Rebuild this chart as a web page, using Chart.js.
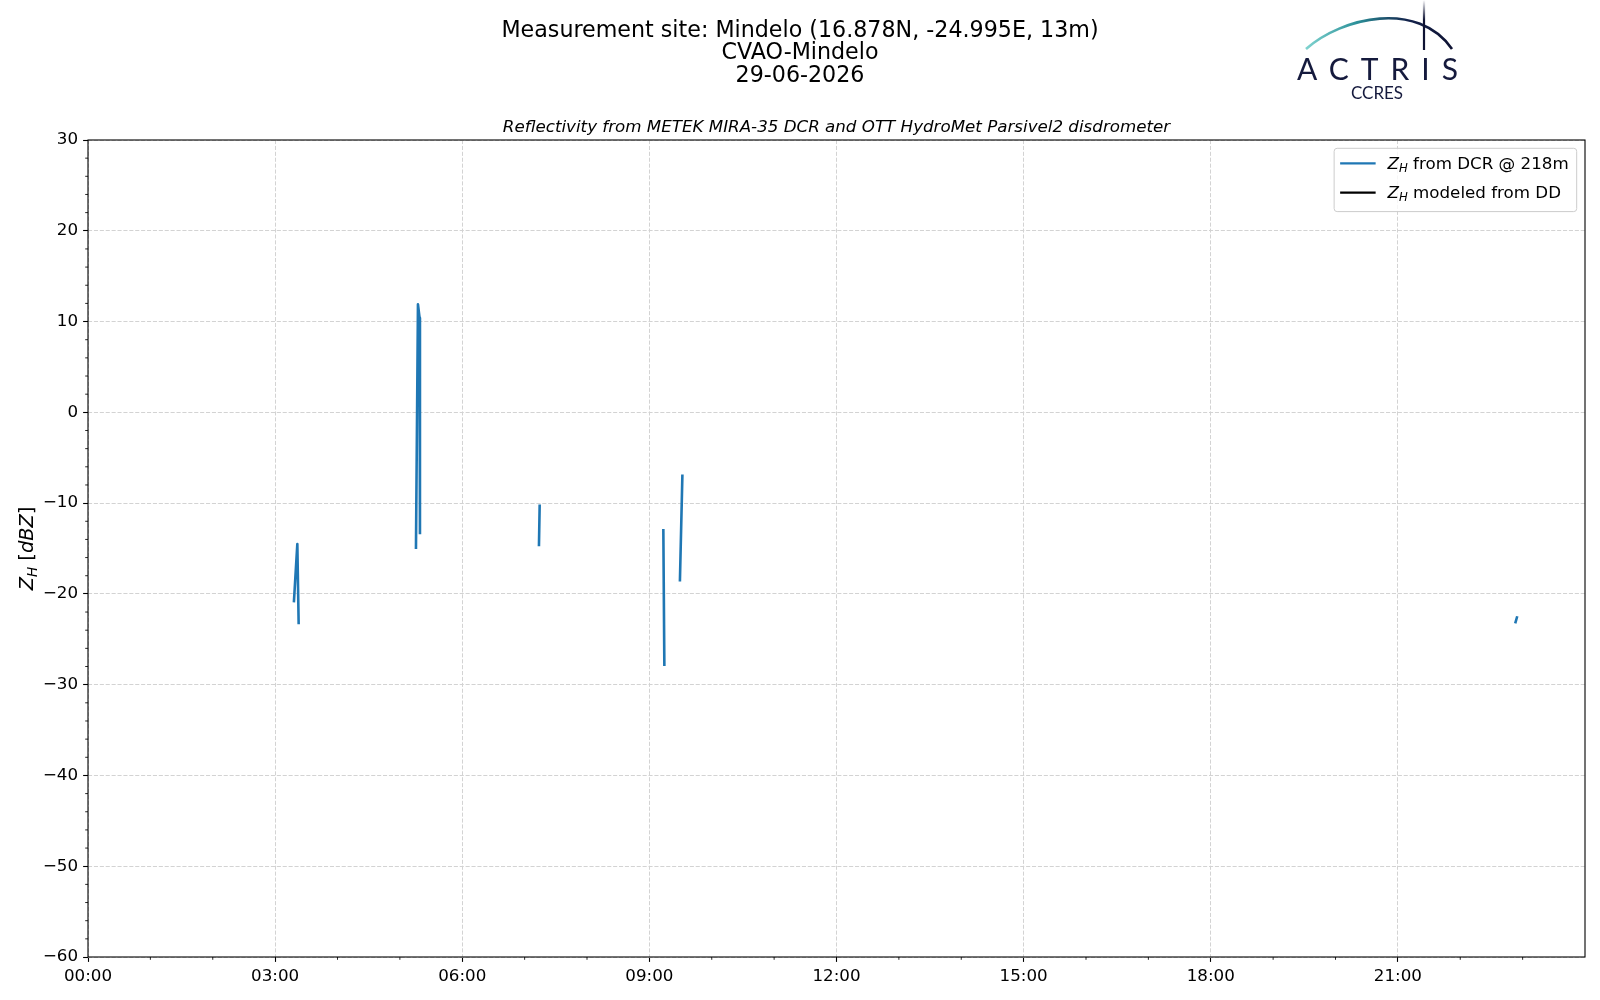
<!DOCTYPE html>
<html lang="en">
<head>
<meta charset="UTF-8">
<title>Reflectivity - CVAO-Mindelo</title>
<script src="https://cdn.jsdelivr.net/npm/chart.js@4"></script>
<style>
  body { margin: 0; background: #fff; }
  #wrap { position: relative; width: 1600px; height: 1000px; }
  #logo { position: absolute; left: 0; top: 0; }
</style>
</head>
<body>
<div id="wrap">
  <canvas id="zh" width="1600" height="1000"></canvas>
  <svg id="logo" width="1600" height="110" viewBox="0 0 1600 110">
    <defs>
      <linearGradient id="arcGrad" x1="1306" y1="0" x2="1452" y2="0" gradientUnits="userSpaceOnUse">
        <stop offset="0" stop-color="#7fd3cf"/>
        <stop offset="0.35" stop-color="#2b9099"/>
        <stop offset="0.7" stop-color="#13224b"/>
        <stop offset="1" stop-color="#0e1233"/>
      </linearGradient>
      <linearGradient id="mastGrad" x1="0" y1="0" x2="0" y2="50" gradientUnits="userSpaceOnUse">
        <stop offset="0" stop-color="#0e1233" stop-opacity="0"/>
        <stop offset="0.4" stop-color="#0e1233"/>
      </linearGradient>
    </defs>
    <path d="M1306 49 C1342 17 1418 0 1452 49" fill="none" stroke="url(#arcGrad)" stroke-width="2.6"/>
    <line x1="1424" y1="0" x2="1424" y2="50" stroke="url(#mastGrad)" stroke-width="2.2"/>
    <text x="1297" y="80" font-family="Lato" font-size="30" fill="#151a3d" textLength="161" lengthAdjust="spacing">ACTRIS</text>
    <text x="1351" y="99.3" font-family="Lato" font-size="17" fill="#151a3d" textLength="52" lengthAdjust="spacing">CCRES</text>
  </svg>
</div>

<script>
    // --- data (time in hours UTC, Z_H in dBZ) ---
    const dcrTime = [3.302, 3.356, 3.377, 4.0,
                     5.258, 5.290, 5.316, 5.322, 6.0,
                     7.230, 7.241, 8.0,
                     9.224, 9.240, 9.3,
                     9.490, 9.529, 12.0,
                     22.887, 22.908];
    const dcrZh = [-20.8, -14.5, -23.2, null,
                   -14.9, 11.9, 10.4, -13.3, null,
                   -14.6, -10.3, null,
                   -13.0, -27.8, null,
                   -18.5, -7.0, null,
                   -23.1, -22.6];

    // disdrometer series has no values for this day
    const ddTime = [];
    const ddZh = [];

    const seriesLabels = ['from DCR @ 218m', 'modeled from DD'];
    const seriesColors = ['#1f77b4', '#000000'];

    const xTickHours = [0, 3, 6, 9, 12, 15, 18, 21];
    const xTickLabels = ['00:00', '03:00', '06:00', '09:00', '12:00', '15:00', '18:00', '21:00'];
    const yTickValues = [-60, -50, -40, -30, -20, -10, 0, 10, 20, 30];
    const yTickLabels = ['\u221260', '\u221250', '\u221240', '\u221230', '\u221220', '\u221210', '0', '10', '20', '30'];

    const titleLines = ['Measurement site: Mindelo (16.878N, -24.995E, 13m)', 'CVAO-Mindelo', '29-06-2026'];
    const subtitle = 'Reflectivity from METEK MIRA-35 DCR and OTT HydroMet Parsivel2 disdrometer';

    const FONT = '"DejaVu Sans", sans-serif';
    const GRID = '#d3d3d3';
    const NONE = 'rgba(0,0,0,0)';

    Chart.defaults.font.family = FONT;
    Chart.defaults.font.size = 16.7;
    Chart.defaults.color = '#000';

    // italic Z with subscript H, like matplotlib mathtext $Z_H$
    function drawZH(ctx, x, y, size) {
        ctx.font = `italic ${size}px ${FONT}`;
        ctx.fillText('Z', x, y);
        let w = ctx.measureText('Z').width;
        ctx.font = `italic ${size * 0.7}px ${FONT}`;
        ctx.fillText('H', x + w, y + size * 0.22);
        w += ctx.measureText('H').width;
        return w;
    }

    const decorations = {
        id: 'decorations',
        afterDraw(chart) {
            const ctx = chart.ctx;
            const a = chart.chartArea;
            const xs = chart.scales.x, ys = chart.scales.y;
            ctx.save();
            ctx.fillStyle = '#000';
            ctx.textBaseline = 'alphabetic';

            // titles
            ctx.textAlign = 'center';
            ctx.font = `22.2px ${FONT}`;
            titleLines.forEach((t, i) => ctx.fillText(t, chart.width / 2, 36.7 + i * 22.7));
            ctx.font = `italic 16.7px ${FONT}`;
            ctx.fillText(subtitle, (a.left + a.right) / 2, 132.3);

            // minor ticks
            ctx.strokeStyle = '#000';
            ctx.lineWidth = 0.85;
            ctx.beginPath();
            for (let h = 1; h < 24; h++) {
                if (xTickHours.includes(h)) continue;
                const px = xs.getPixelForValue(h);
                ctx.moveTo(px, a.bottom);
                ctx.lineTo(px, a.bottom + 2.8);
            }
            for (let v = -58; v < 30; v += 2) {
                if (yTickValues.includes(v)) continue;
                const py = ys.getPixelForValue(v);
                ctx.moveTo(a.left, py);
                ctx.lineTo(a.left - 2.8, py);
            }
            ctx.stroke();

            // axes frame
            ctx.lineWidth = 1.1;
            ctx.strokeRect(a.left, a.top, a.right - a.left, a.bottom - a.top);

            // y axis title: Z_H [dBZ]
            const ys0 = 19.4;
            ctx.save();
            ctx.translate(33, (a.top + a.bottom) / 2);
            ctx.rotate(-Math.PI / 2);
            ctx.textAlign = 'left';
            const parts = [['up', ' ['], ['it', 'dBZ'], ['up', ']']];
            ctx.font = `italic ${ys0}px ${FONT}`;
            let total = ctx.measureText('Z').width;
            ctx.font = `italic ${ys0 * 0.7}px ${FONT}`;
            total += ctx.measureText('H').width;
            parts.forEach(([s, t]) => {
                ctx.font = `${s === 'it' ? 'italic ' : ''}${ys0}px ${FONT}`;
                total += ctx.measureText(t).width;
            });
            let x = -total / 2;
            x += drawZH(ctx, x, 0, ys0);
            parts.forEach(([s, t]) => {
                ctx.font = `${s === 'it' ? 'italic ' : ''}${ys0}px ${FONT}`;
                ctx.fillText(t, x, 0);
                x += ctx.measureText(t).width;
            });
            ctx.restore();

            // legend
            const fs = 16.7;
            ctx.font = `italic ${fs}px ${FONT}`;
            let zw = ctx.measureText('Z').width;
            ctx.font = `italic ${fs * 0.7}px ${FONT}`;
            zw += ctx.measureText('H').width;
            ctx.font = `${fs}px ${FONT}`;
            const textW = zw + Math.max(...seriesLabels.map(l => ctx.measureText(' ' + l).width));
            const bw = 53.4 + textW + 8, bh = 63.3;
            const bx = a.right - 8.3 - bw, by = a.top + 8.3;
            ctx.beginPath();
            if (ctx.roundRect) ctx.roundRect(bx, by, bw, bh, 3); else ctx.rect(bx, by, bw, bh);
            ctx.fillStyle = 'rgba(255,255,255,0.8)';
            ctx.fill();
            ctx.strokeStyle = '#cccccc';
            ctx.lineWidth = 1;
            ctx.stroke();
            chart.data.datasets.forEach((ds, i) => {
                const cy = by + 15 + i * 29.3;
                ctx.strokeStyle = ds.borderColor;
                ctx.lineWidth = 2.2;
                ctx.beginPath();
                ctx.moveTo(bx + 6, cy);
                ctx.lineTo(bx + 41.5, cy);
                ctx.stroke();
                ctx.fillStyle = '#000';
                ctx.textAlign = 'left';
                const tx = bx + 53.4;
                const w = drawZH(ctx, tx, cy + 5.2, fs);
                ctx.font = `${fs}px ${FONT}`;
                ctx.fillText(' ' + seriesLabels[i], tx + w, cy + 5.2);
            });
            ctx.restore();
        }
    };

    new Chart(document.getElementById('zh'), {
        type: 'line',
        data: {
            datasets: [{
                label: seriesLabels[0],
                data: dcrTime.map((t, i) => ({ x: t, y: dcrZh[i] })),
                borderColor: seriesColors[0],
                borderWidth: 2.6,
                pointRadius: 0,
                tension: 0,
                spanGaps: false,
                borderCapStyle: 'square',
                borderJoinStyle: 'round'
            }, {
                label: seriesLabels[1],
                data: ddTime.map((t, i) => ({ x: t, y: ddZh[i] })),
                borderColor: seriesColors[1],
                borderWidth: 2.6,
                pointRadius: 0,
                tension: 0
            }]
        },
        options: {
            responsive: false,
            animation: false,
            layout: { padding: { top: 140, right: 15, left: 0, bottom: 0 } },
            plugins: {
                legend: { display: false },
                tooltip: { enabled: false }
            },
            scales: {
                x: {
                    type: 'linear',
                    min: 0,
                    max: 24,
                    afterFit(s) { s.height = 43; },
                    ticks: {
                        stepSize: 1,
                        autoSkip: false,
                        maxRotation: 0,
                        minRotation: 0,
                        padding: 5,
                        callback(v) {
                            const i = xTickHours.indexOf(v);
                            return i >= 0 ? xTickLabels[i] : '';
                        }
                    },
                    grid: {
                        color: c => xTickHours.includes(c.tick.value) ? GRID : NONE,
                        lineWidth: 1,
                        tickColor: c => xTickHours.includes(c.tick.value) ? '#000' : NONE,
                        tickLength: 4.9,
                        tickWidth: 1.1
                    },
                    border: { display: false, dash: [4.1, 1.8] }
                },
                y: {
                    min: -60,
                    max: 30,
                    afterFit(s) { s.width = 88; },
                    ticks: {
                        stepSize: 2,
                        autoSkip: false,
                        padding: 5,
                        callback(v) {
                            const i = yTickValues.indexOf(v);
                            return i >= 0 ? yTickLabels[i] : '';
                        }
                    },
                    grid: {
                        color: c => yTickValues.includes(c.tick.value) ? GRID : NONE,
                        lineWidth: 1,
                        tickColor: c => yTickValues.includes(c.tick.value) ? '#000' : NONE,
                        tickLength: 4.9,
                        tickWidth: 1.1
                    },
                    border: { display: false, dash: [4.1, 1.8] }
                }
            }
        },
        plugins: [decorations]
    });
</script>
</body>
</html>
